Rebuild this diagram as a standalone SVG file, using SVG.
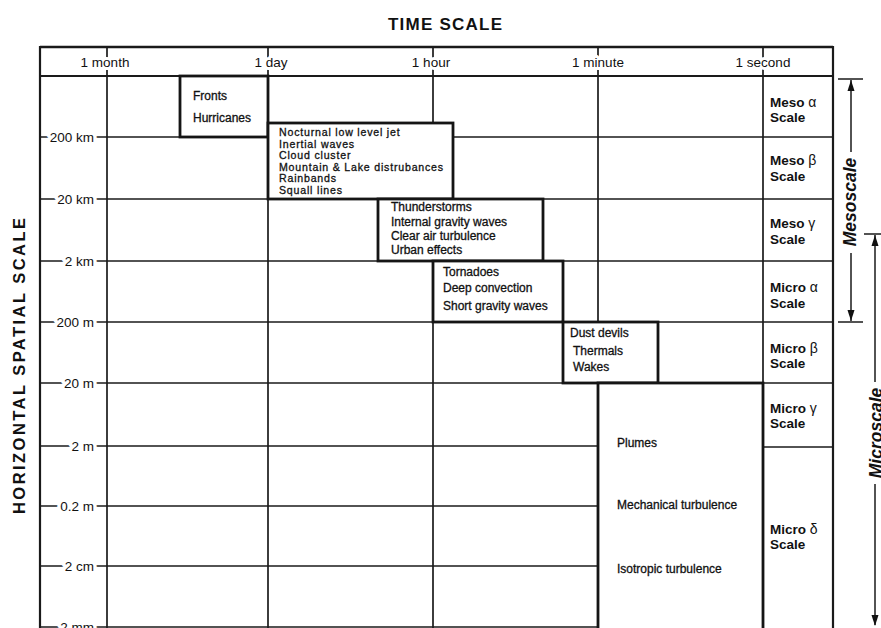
<svg xmlns="http://www.w3.org/2000/svg" width="881" height="628" viewBox="0 0 881 628">
<style>
text{font-family:"Liberation Sans",Arial,Helvetica,sans-serif;fill:#111}
.title{font-size:17px;font-weight:bold}
.axis{font-size:16.5px;font-weight:bold}
.hdr{font-size:13.5px;stroke:#fff;stroke-width:6px;paint-order:stroke;stroke-linejoin:round}
.tick{font-size:13.5px;text-anchor:end;stroke:#fff;stroke-width:7px;paint-order:stroke;stroke-linejoin:round}
.bt{font-size:12px;stroke:#111;stroke-width:0.3px}
.bs{font-size:10.6px;letter-spacing:0.8px;stroke:#111;stroke-width:0.3px}
.sc{font-size:13.5px;font-weight:bold}
.gr{font-weight:normal;font-size:14px}
.big{font-size:17.5px;font-weight:bold;font-style:italic;text-anchor:middle}
.grid line{stroke:#1a1a1a;stroke-width:1.7}
.box rect{fill:#fff;stroke:#151515;stroke-width:2.8}
.arr line{stroke:#1a1a1a;stroke-width:1.5}
.arr path{fill:#111}
</style>

<text class="title" x="445" y="30" text-anchor="middle" textLength="114" lengthAdjust="spacing">TIME SCALE</text>
<text class="axis" transform="translate(25,366) rotate(-90)" text-anchor="middle" textLength="296" lengthAdjust="spacing">HORIZONTAL  SPATIAL  SCALE</text>

<g id="grid" class="grid">
  <line x1="107" y1="47" x2="107" y2="628"/>
  <line x1="268" y1="47" x2="268" y2="628"/>
  <line x1="433" y1="47" x2="433" y2="628"/>
  <line x1="598" y1="47" x2="598" y2="628"/>
  <line x1="763" y1="47" x2="763" y2="628"/>
  <line x1="40" y1="137" x2="833" y2="137"/>
  <line x1="40" y1="199" x2="833" y2="199"/>
  <line x1="40" y1="261" x2="833" y2="261"/>
  <line x1="40" y1="322" x2="833" y2="322"/>
  <line x1="40" y1="383" x2="833" y2="383"/>
  <line x1="40" y1="446" x2="598" y2="446"/>
  <line x1="763" y1="447" x2="833" y2="447"/>
  <line x1="40" y1="506" x2="598" y2="506"/>
  <line x1="40" y1="566" x2="598" y2="566"/>
  <line x1="40" y1="627" x2="598" y2="627"/>
  <line x1="40" y1="47" x2="833" y2="47" style="stroke-width:2.4"/>
  <line x1="40" y1="76" x2="833" y2="76" style="stroke-width:2.2"/>
  <line x1="40" y1="46" x2="40" y2="628" style="stroke-width:2.2"/>
  <line x1="833" y1="46" x2="833" y2="628" style="stroke-width:2.2"/>
</g>

<g id="time-labels">
  <text class="hdr" x="105" y="67" text-anchor="middle">1 month</text>
  <text class="hdr" x="271" y="67" text-anchor="middle">1 day</text>
  <text class="hdr" x="431" y="67" text-anchor="middle">1 hour</text>
  <text class="hdr" x="598" y="67" text-anchor="middle">1 minute</text>
  <text class="hdr" x="763" y="67" text-anchor="middle">1 second</text>
</g>

<g id="space-labels">
  <text class="tick" x="94" y="141.5">200 km</text>
  <text class="tick" x="94" y="203.5">20 km</text>
  <text class="tick" x="94" y="265.5">2 km</text>
  <text class="tick" x="94" y="326.5">200 m</text>
  <text class="tick" x="94" y="387.5">20 m</text>
  <text class="tick" x="94" y="450.5">2 m</text>
  <text class="tick" x="94" y="510.5">0.2 m</text>
  <text class="tick" x="94" y="570.5">2 cm</text>
  <text class="tick" x="94" y="632">2 mm</text>
</g>

<g id="box-fronts" class="box">
  <rect x="180" y="76" width="88" height="61"/>
  <text class="bt" x="193" y="100">Fronts</text>
  <text class="bt" x="193" y="122">Hurricanes</text>
</g>

<g id="box-nocturnal" class="box">
  <rect x="268" y="123" width="185" height="76"/>
  <text class="bs" x="279" y="136">Nocturnal low level jet</text>
  <text class="bs" x="279" y="147.5">Inertial waves</text>
  <text class="bs" x="279" y="159">Cloud cluster</text>
  <text class="bs" x="279" y="170.5">Mountain &amp; Lake distrubances</text>
  <text class="bs" x="279" y="182">Rainbands</text>
  <text class="bs" x="279" y="193.5">Squall lines</text>
</g>

<g id="box-thunderstorms" class="box">
  <rect x="378" y="199" width="165" height="62"/>
  <text class="bt" x="391" y="211">Thunderstorms</text>
  <text class="bt" x="391" y="225.5">Internal gravity waves</text>
  <text class="bt" x="391" y="239.5">Clear air turbulence</text>
  <text class="bt" x="391" y="254">Urban effects</text>
</g>

<g id="box-tornadoes" class="box">
  <rect x="433" y="261" width="130" height="61"/>
  <text class="bt" x="443" y="276">Tornadoes</text>
  <text class="bt" x="443" y="292">Deep convection</text>
  <text class="bt" x="443" y="310">Short gravity waves</text>
</g>

<g id="box-dust" class="box">
  <rect x="563" y="322" width="95" height="61"/>
  <text class="bt" x="570" y="337">Dust devils</text>
  <text class="bt" x="573" y="355">Thermals</text>
  <text class="bt" x="573" y="371">Wakes</text>
</g>

<g id="box-plumes" class="box">
  <rect x="598" y="383" width="165" height="250"/>
  <text class="bt" x="617" y="447">Plumes</text>
  <text class="bt" x="617" y="509">Mechanical turbulence</text>
  <text class="bt" x="617" y="573">Isotropic turbulence</text>
</g>

<g id="scale-labels">
  <text class="sc" x="770" y="107">Meso <tspan class="gr">α</tspan></text>
  <text class="sc" x="770" y="122">Scale</text>
  <text class="sc" x="770" y="165">Meso <tspan class="gr">β</tspan></text>
  <text class="sc" x="770" y="181">Scale</text>
  <text class="sc" x="770" y="228">Meso <tspan class="gr">γ</tspan></text>
  <text class="sc" x="770" y="244">Scale</text>
  <text class="sc" x="770" y="292">Micro <tspan class="gr">α</tspan></text>
  <text class="sc" x="770" y="308">Scale</text>
  <text class="sc" x="770" y="353">Micro <tspan class="gr">β</tspan></text>
  <text class="sc" x="770" y="368">Scale</text>
  <text class="sc" x="770" y="413">Micro <tspan class="gr">γ</tspan></text>
  <text class="sc" x="770" y="428">Scale</text>
  <text class="sc" x="770" y="534">Micro <tspan class="gr">δ</tspan></text>
  <text class="sc" x="770" y="549">Scale</text>
</g>

<g id="connectors" class="arr">
  <line x1="838" y1="79" x2="863" y2="79"/>
  <line x1="838" y1="322" x2="863" y2="322"/>
  <line x1="851" y1="80" x2="851" y2="152"/>
  <line x1="851" y1="253" x2="851" y2="321"/>
  <path d="M851,80 L847.5,91 L854.5,91 Z"/>
  <path d="M851,321 L847.5,310 L854.5,310 Z"/>
  <line x1="864" y1="234" x2="881" y2="234"/>
  <line x1="875" y1="235" x2="875" y2="382"/>
  <line x1="875" y1="484" x2="875" y2="625"/>
  <path d="M875,235 L871.5,246 L878.5,246 Z"/>
  <path d="M875,626 L871.5,615 L878.5,615 Z"/>
</g>

<g id="range-labels">
  <text class="big" transform="translate(856,202) rotate(-90)">Mesoscale</text>
  <text class="big" transform="translate(882,433) rotate(-90)">Microscale</text>
</g>
</svg>
